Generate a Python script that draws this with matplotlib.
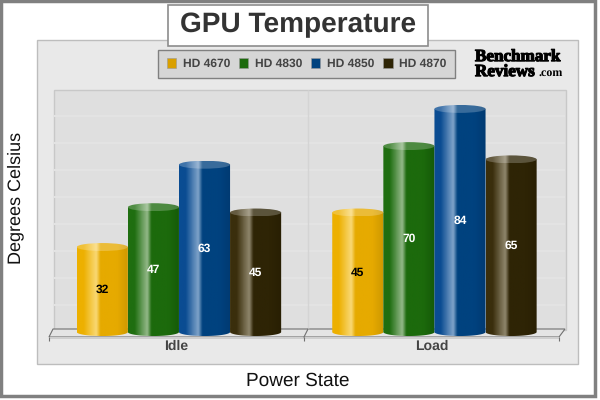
import matplotlib
matplotlib.use("Agg")
import matplotlib.pyplot as plt
import matplotlib.patheffects as pe
import numpy as np
from matplotlib.colors import LinearSegmentedColormap
from matplotlib.patches import Ellipse, Patch, Polygon, Rectangle

plt.rcParams['font.family'] = ['Liberation Sans', 'DejaVu Sans']
plt.rcParams['text.hinting'] = 'no_hinting'
plt.rcParams['text.hinting_factor'] = 1

# --- Data ---
states = ['Idle', 'Load']
cards = ['HD 4670', 'HD 4830', 'HD 4850', 'HD 4870']
idle = [32, 47, 63, 45]
load = [45, 70, 84, 65]

# --- Colours: left edge, highlight, body, right edge ---
shades = [
    ['#EDB000', '#F9D874', '#E6AA00', '#CE9800'],
    ['#1F6E10', '#93B888', '#1C6A0C', '#155A08'],
    ['#0A4C92', '#7FA3C9', '#00427F', '#003A72'],
    ['#3A2E0C', '#8F866C', '#2E2405', '#281F03'],
]
swatches = ['#D9A000', '#1C6A0C', '#00427F', '#2E2405']
label_colors = ['black', 'white', 'white', 'white']
bar_w = 0.2
cap_h = 3.0


def gradient(colors, lighten=0.0):
    stops = [(0, colors[0]), (0.12, colors[0]), (0.37, colors[1]),
             (0.45, colors[2]), (0.78, colors[2]), (1, colors[3])]
    cmap = LinearSegmentedColormap.from_list('cyl', stops)
    rgb = cmap(np.linspace(0, 1, 64))[:, :3]
    rgb = rgb + (1 - rgb) * lighten
    return rgb[np.newaxis, :, :]


def cylinder(ax, xc, value, colors):
    x0 = xc - bar_w / 2
    x1 = xc + bar_w / 2
    t = np.linspace(0, np.pi, 40)
    bottom = np.column_stack([xc + bar_w / 2 * np.cos(t), -cap_h / 2 * np.sin(t)])
    outline = np.vstack([[[x1, value]], bottom, [[x0, value]]])
    im = ax.imshow(gradient(colors), extent=(x0, x1, -cap_h, value), aspect='auto', zorder=3)
    im.set_clip_path(Polygon(outline, transform=ax.transData))
    cap = ax.imshow(gradient(colors, 0.22), extent=(x0, x1, value - cap_h / 2, value + cap_h / 2),
                    aspect='auto', zorder=4)
    cap.set_clip_path(Ellipse((xc, value), bar_w, cap_h, transform=ax.transData))


fig = plt.figure(figsize=(6, 4), dpi=100)

# --- Frame, panel and floor, in pixels ---
back = fig.add_axes([0, 0, 1, 1])
back.set_xlim(0, 600)
back.set_ylim(400, 0)
back.axis('off')
back.add_patch(Rectangle((1, 1), 593.5, 395, fc='white', ec='#808080', lw=2.5))
back.add_patch(Rectangle((36.5, 39.5), 541, 324, fc='#E9E9E9', ec='#BDBDBD', lw=1))
back.add_patch(Rectangle((53.5, 89.5), 512, 240, fc='#DFDFDF', ec='#C8C8C8', lw=1))
back.hlines(np.arange(116, 329, 27), 54, 565, color='#E3E3E3', lw=1.5)
back.vlines(307.5, 90, 329, color='#D4D4D4', lw=1)
back.add_patch(Polygon([(53, 329), (565, 329), (559, 337), (49, 337)], fc='#E4E4E4', ec='#707070', lw=0.8))
back.add_patch(Rectangle((49, 337), 510, 2, fc='#CFCFCF', ec='none'))
back.vlines([49, 304, 559], 337, 341, color='#707070', lw=0.8)
back.plot([304, 308], [337, 329], color='#707070', lw=0.8)

# --- Title box ---
back.add_patch(Rectangle((168, 5), 260, 41, fc='white', ec='#8C8C8C', lw=1.2, zorder=5))
back.text(298, 25, 'GPU Temperature', fontsize=20.5, fontweight='bold', color='#333333',
          ha='center', va='center', zorder=6)

# --- Logo ---
logo = [pe.withStroke(linewidth=0.8, foreground='black')]
back.text(475, 57, 'Benchmark', family=['Liberation Serif'], fontsize=12.3, fontweight='bold',
          color='black', va='center', path_effects=logo)
back.text(475, 72, 'Reviews', family=['Liberation Serif'], fontsize=12.3, fontweight='bold',
          color='black', va='center', path_effects=logo)
back.text(538, 73, '.com', family=['Liberation Serif'], fontsize=8.5, fontweight='bold',
          color='black', va='center')

# --- Chart ---
ax = fig.add_axes([53 / 600, 1 - 340 / 400, 512 / 600, 251 / 400])
ax.patch.set_alpha(0)
positions = np.arange(len(states))
for i, card in enumerate(cards):
    offset = (i - 1.5) * bar_w
    for pos, value in zip(positions, [idle[i], load[i]]):
        cylinder(ax, pos + offset, value, shades[i])
        ax.text(pos + offset, value / 2, str(value), color=label_colors[i], fontsize=8.5,
                fontweight='bold', ha='center', va='center', zorder=6)

ax.set_xlim(-0.493, 1.511)
ax.set_ylim(-3, 91.5)
ax.set_yticks([])
ax.set_xticks(positions - 0.012)
ax.set_xticklabels(states, fontsize=10, fontweight='bold', color='#444444')
ax.tick_params(axis='x', length=0, pad=0)
for spine in ax.spines.values():
    spine.set_visible(False)
ax.set_xlabel('Power State', fontsize=14, color='#111111')
ax.xaxis.set_label_coords((298 - 53) / 512, -(381 - 340) / 251)
ax.set_ylabel('Degrees Celsius', fontsize=13, color='#111111')
ax.yaxis.set_label_coords(-(53 - 16) / 512, (340 - 198) / 251)
ax.xaxis.label.set_va('center')
ax.yaxis.label.set_va('center')

# --- Legend ---
handles = [Patch(facecolor=c, edgecolor='#999999', linewidth=0.4) for c in swatches]
leg = back.legend(handles, cards, ncols=4, loc='center', bbox_to_anchor=(306.5 / 600, 1 - 64 / 400),
                  bbox_transform=fig.transFigure, frameon=True, fancybox=False,
                  facecolor='#D6D6D6', edgecolor='#808080', framealpha=1,
                  handlelength=0.8, handleheight=0.8, handletextpad=0.55, columnspacing=0.75,
                  borderpad=0.75, prop={'weight': 'bold', 'size': 8.5})
leg.get_frame().set_linewidth(1)
leg.set_zorder(5)
for text in leg.get_texts():
    text.set_color('#444444')

fig.savefig('out.png', dpi=100)
